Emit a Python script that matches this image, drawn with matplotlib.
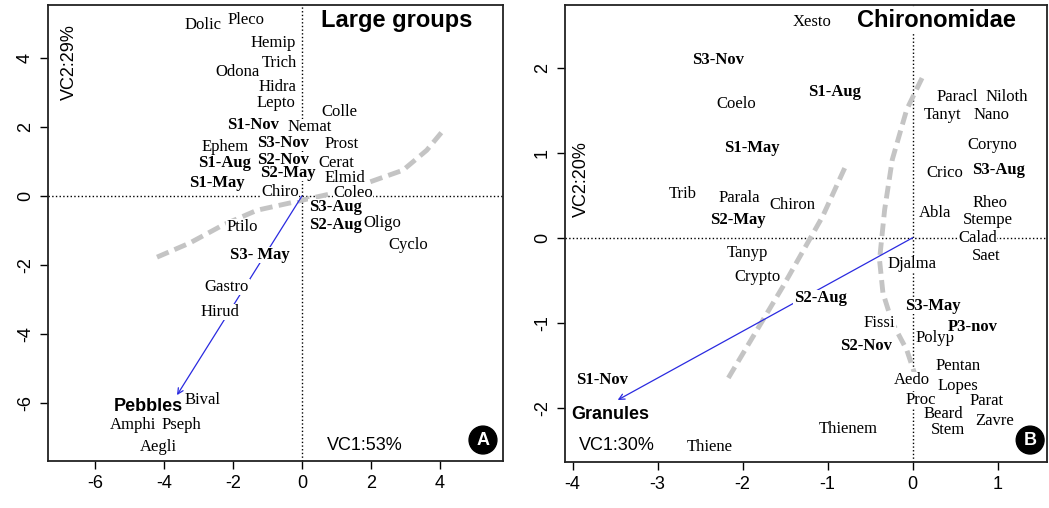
import matplotlib.pyplot as plt

plt.rcParams['axes.unicode_minus'] = False

serif = 'Liberation Serif'
sans = 'Liberation Sans'

# ---- panel A : large groups ----
taxa_a = ['Dolic', 'Pleco', 'Hemip', 'Trich', 'Odona', 'Hidra', 'Lepto', 'Colle',
          'Nemat', 'Ephem', 'Prost', 'Cerat', 'Elmid', 'Chiro', 'Coleo', 'Oligo',
          'Ptilo', 'Cyclo', 'Gastro', 'Hirud', 'Bival', 'Amphi', 'Pseph', 'Aegli']
taxa_a_x = [-2.87, -1.62, -0.84, -0.64, -1.88, -0.72, -0.75, 1.10,
            0.23, -2.23, 1.16, 1.01, 1.25, -0.64, 1.48, 2.32,
            -1.74, 3.07, -2.17, -2.38, -2.87, -4.90, -3.48, -4.17]
taxa_a_y = [4.96, 5.10, 4.43, 3.86, 3.59, 3.16, 2.70, 2.43,
            2.00, 1.42, 1.51, 0.96, 0.52, 0.12, 0.09, -0.78,
            -0.90, -1.42, -2.64, -3.36, -5.91, -6.64, -6.64, -7.28]
sites_a = ['S1-Nov', 'S3-Nov', 'S2-Nov', 'S1-Aug', 'S2-May', 'S1-May', 'S3-Aug', 'S2-Aug', 'S3- May']
sites_a_x = [-1.42, -0.55, -0.55, -2.23, -0.41, -2.46, 0.96, 0.96, -1.22]
sites_a_y = [2.06, 1.54, 1.04, 0.96, 0.67, 0.38, -0.32, -0.84, -1.71]
env_a = 'Pebbles'
env_a_xy = (-3.62, -5.77)
env_a_label = (-4.46, -6.09)
curve_a_x = [-4.20, -3.25, -2.29, -1.30, -0.35, 0.81, 1.97, 2.93, 3.62, 4.06]
curve_a_y = [-1.77, -1.36, -0.84, -0.41, -0.20, 0.06, 0.41, 0.75, 1.33, 1.86]

# ---- panel B : Chironomidae ----
taxa_b = ['Xesto', 'Coelo', 'Paracl', 'Niloth', 'Tanyt', 'Nano', 'Coryno', 'Crico',
          'Trib', 'Parala', 'Chiron', 'Rheo', 'Abla', 'Stempe', 'Calad', 'Saet',
          'Tanyp', 'Crypto', 'Djalma', 'Fissi', 'Polyp', 'Pentan', 'Aedo', 'Lopes',
          'Proc', 'Parat', 'Beard', 'Zavre', 'Stem', 'Thienem', 'Thiene']
taxa_b_x = [-1.18, -2.07, 0.52, 1.11, 0.35, 0.93, 0.94, 0.38,
            -2.71, -2.04, -1.42, 0.91, 0.26, 0.88, 0.76, 0.87,
            -1.94, -1.82, -0.01, -0.39, 0.26, 0.53, -0.01, 0.53,
            0.09, 0.87, 0.36, 0.96, 0.41, -0.76, -2.39]
taxa_b_y = [2.54, 1.58, 1.66, 1.66, 1.45, 1.45, 1.09, 0.76,
            0.51, 0.47, 0.39, 0.41, 0.29, 0.21, 0.00, -0.22,
            -0.18, -0.46, -0.31, -1.00, -1.18, -1.51, -1.68, -1.74,
            -1.91, -1.92, -2.07, -2.16, -2.26, -2.25, -2.46]
sites_b = ['S3-Nov', 'S1-Aug', 'S1-May', 'S3-Aug', 'S2-May', 'S2-Aug', 'S3-May', 'P3-nov', 'S2-Nov', 'S1-Nov']
sites_b_x = [-2.29, -0.92, -1.89, 1.01, -2.06, -1.09, 0.24, 0.71, -0.55, -3.65]
sites_b_y = [2.09, 1.72, 1.06, 0.80, 0.21, -0.71, -0.80, -1.05, -1.27, -1.67]
env_b = 'Granules'
env_b_xy = (-3.47, -1.91)
env_b_label = (-3.56, -2.08)
curve_b1_x = [-0.80, -1.06, -1.53, -2.18]
curve_b1_y = [0.82, 0.25, -0.58, -1.67]
curve_b2_x = [0.11, -0.07, -0.24, -0.33, -0.39, -0.35, -0.24, -0.07, 0.02]
curve_b2_y = [1.88, 1.51, 0.92, 0.33, -0.26, -0.65, -1.00, -1.32, -1.59]

W, H = 1049, 508
fig = plt.figure(figsize=(W / 100, H / 100), dpi=100)
ax_a = fig.add_axes([48 / W, 1 - 461 / H, 455 / W, 456 / H])
ax_b = fig.add_axes([565 / W, 1 - 462 / H, 482 / W, 457 / H])

box = dict(facecolor='white', edgecolor='none', pad=0.3)
badge = dict(boxstyle='circle,pad=0.3', facecolor='black', edgecolor='black')


def draw_panel(ax, taxa, tx, ty, sites, sx, sy, env, exy, elab, curves):
    ax.axhline(0, color='black', ls=':', lw=1, zorder=1)
    ax.axvline(0, color='black', ls=':', lw=1, zorder=1)
    for cx, cy in curves:
        ax.plot(cx, cy, color='#c4c4c4', lw=3.5, ls=(0, (2.6, 1.3)),
                solid_capstyle='butt', dash_capstyle='butt', zorder=2)
    ax.annotate('', xy=exy, xytext=(0, 0),
                arrowprops=dict(arrowstyle='->', color='#2a2ae0', lw=0.9,
                                shrinkA=0, shrinkB=0), zorder=2)
    for name, x, y in zip(taxa, tx, ty):
        ax.text(x, y, name, ha='center', va='center', fontsize=12,
                family=serif, bbox=box, zorder=3)
    for name, x, y in zip(sites, sx, sy):
        ax.text(x, y, name, ha='center', va='center', fontsize=12,
                family=serif, fontweight='bold', bbox=box, zorder=3)
    ax.text(elab[0], elab[1], env, ha='center', va='center', fontsize=13,
            family=sans, fontweight='bold', bbox=box, zorder=3)
    for s in ax.spines.values():
        s.set_linewidth(1.3)
        s.set_color('#222222')
    ax.tick_params(direction='out', length=6, width=1, labelsize=13, pad=4)


def style_ticks(ax):
    for lab in ax.get_xticklabels() + ax.get_yticklabels():
        lab.set_family(sans)
    plt.setp(ax.get_yticklabels(), rotation=90, va='center')


draw_panel(ax_a, taxa_a, taxa_a_x, taxa_a_y, sites_a, sites_a_x, sites_a_y,
           env_a, env_a_xy, env_a_label, [(curve_a_x, curve_a_y)])
ax_a.set_xlim(-7.36, 5.83)
ax_a.set_ylim(-7.68, 5.54)
ax_a.set_xticks([-6, -4, -2, 0, 2, 4])
ax_a.set_yticks([-6, -4, -2, 0, 2, 4])
style_ticks(ax_a)
ax_a.text(0.767, 0.967, 'Large groups', transform=ax_a.transAxes, ha='center',
          va='center', fontsize=17, family=sans, fontweight='bold', bbox=box, zorder=4)
ax_a.text(0.048, 0.875, 'VC2:29%', transform=ax_a.transAxes, ha='center',
          va='center', rotation=90, fontsize=13, family=sans, zorder=4)
ax_a.text(0.697, 0.035, 'VC1:53%', transform=ax_a.transAxes, ha='center',
          va='center', fontsize=13, family=sans, zorder=4)
ax_a.text(0.956, 0.046, 'A', transform=ax_a.transAxes, ha='center', va='center',
          fontsize=13, family=sans, fontweight='bold', color='white', bbox=badge, zorder=4)

draw_panel(ax_b, taxa_b, taxa_b_x, taxa_b_y, sites_b, sites_b_x, sites_b_y,
           env_b, env_b_xy, env_b_label,
           [(curve_b1_x, curve_b1_y), (curve_b2_x, curve_b2_y)])
ax_b.set_xlim(-4.09, 1.58)
ax_b.set_ylim(-2.64, 2.74)
ax_b.set_xticks([-4, -3, -2, -1, 0, 1])
ax_b.set_yticks([-2, -1, 0, 1, 2])
style_ticks(ax_b)
ax_b.text(0.770, 0.967, 'Chironomidae', transform=ax_b.transAxes, ha='center',
          va='center', fontsize=17, family=sans, fontweight='bold', bbox=box, zorder=4)
ax_b.text(0.035, 0.62, 'VC2:20%', transform=ax_b.transAxes, ha='center',
          va='center', rotation=90, fontsize=13, family=sans, zorder=4)
ax_b.text(0.108, 0.037, 'VC1:30%', transform=ax_b.transAxes, ha='center',
          va='center', fontsize=13, family=sans, zorder=4)
ax_b.text(0.965, 0.048, 'B', transform=ax_b.transAxes, ha='center', va='center',
          fontsize=13, family=sans, fontweight='bold', color='white', bbox=badge, zorder=4)

fig.savefig('out.png', dpi=100)
